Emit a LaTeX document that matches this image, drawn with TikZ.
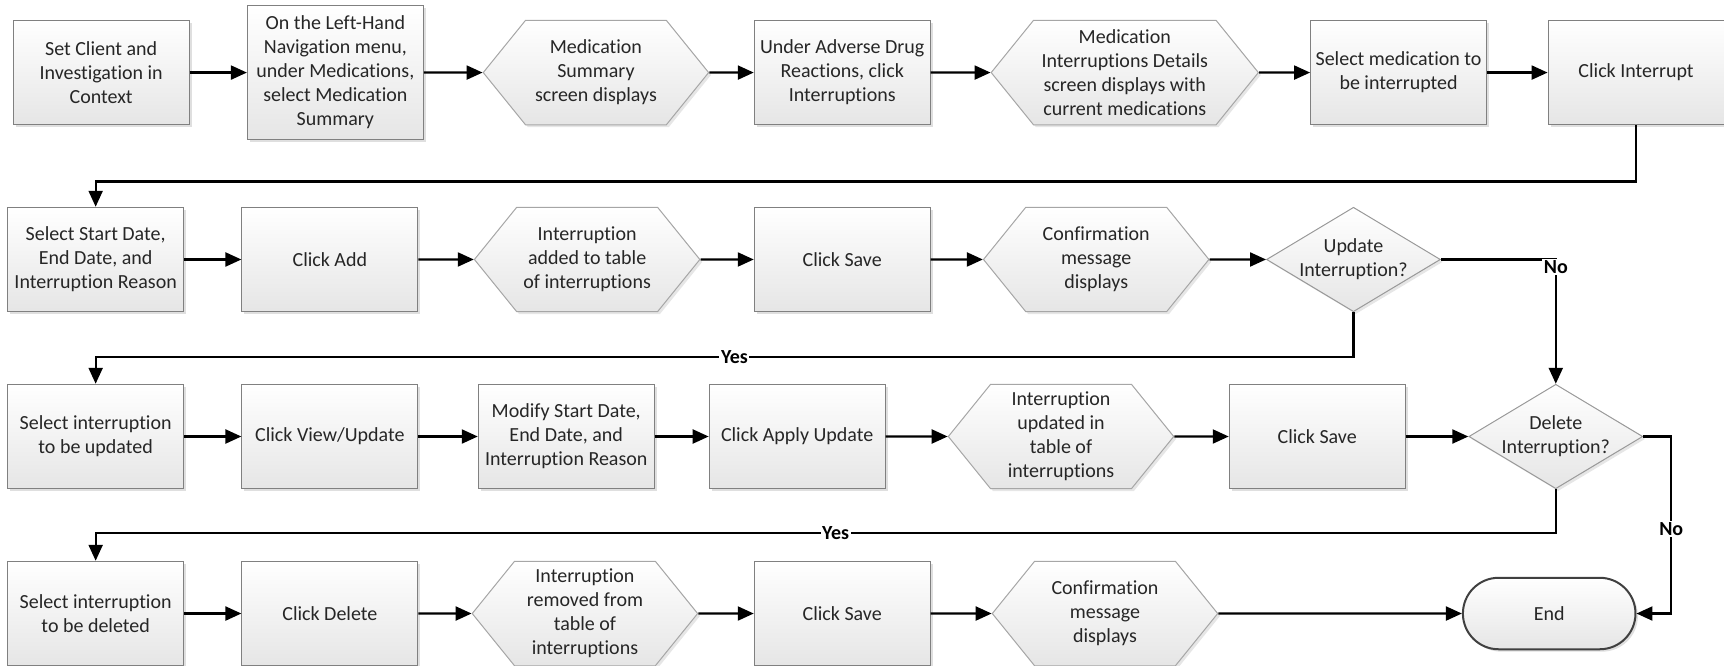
\documentclass[tikz,border=0pt]{standalone}
\usepackage{fontspec}
\setmainfont{Carlito}[Ligatures=NoCommon]
\usetikzlibrary{arrows.meta,shapes.geometric,shapes.symbols,shapes.misc,shadows}

\begin{document}
\begin{tikzpicture}[x=0.55pt,y=-0.55pt,
  font=\fontsize{10}{12}\selectfont,
  every node/.style={text=black!85, align=center},
  every label/.style={text=black!85, align=center},
  procbox/.style={rectangle, draw=black!50, line width=0.5pt, top color=white, bottom color=black!10,
    minimum width=88pt, minimum height=52.25pt, inner sep=1pt,
    drop shadow={shadow xshift=1.2pt, shadow yshift=-1.2pt, opacity=0.25}},
  hexbox/.style={signal, signal to=east and west, signal pointer angle=102, draw=black!35, line width=0.5pt,
    top color=white, bottom color=black!10, minimum width=112.75pt, minimum height=52.25pt, inner sep=1pt,
    drop shadow={shadow xshift=1.2pt, shadow yshift=-1.2pt, opacity=0.2}},
  decbox/.style={diamond, draw=black!40, line width=0.5pt, top color=white, bottom color=black!10,
    minimum width=87pt, minimum height=52.25pt, inner sep=0pt,
    drop shadow={shadow xshift=1.2pt, shadow yshift=-1.2pt, opacity=0.2}},
  endbox/.style={rounded rectangle, draw=black!75, line width=1pt, top color=white, bottom color=black!10,
    minimum width=93pt, minimum height=35.75pt,
    drop shadow={shadow xshift=1.2pt, shadow yshift=-1.2pt, opacity=0.25}},
  arr/.style={line width=1.1pt, black, -{Triangle[length=8pt,width=7pt]}},
  lbl/.style={fill=white, inner sep=0.8pt, font=\fontsize{10}{12}\selectfont\bfseries, text=black}]
\useasboundingbox (0,0) rectangle (1568,605);

%Row 1
\node[procbox] (setctx) at (92,66) {Set Client and\\Investigation in\\Context};
\node[procbox, minimum height=67pt] (leftnav) at (305,66) {On the Left-Hand\\Navigation menu,\\under Medications,\\select Medication\\Summary};
\node[hexbox] (medsum) at (542,66) {Medication\\Summary\\screen displays};
\node[procbox] (adverse) at (766,66) {Under Adverse Drug\\Reactions, click\\Interruptions};
\node[hexbox, minimum width=133.65pt] (details) at (1023,66) {Medication\\Interruptions Details\\screen displays with\\current medications};
\node[procbox] (selmed) at (1272,66) {Select medication to\\be interrupted};
\node[procbox] (interrupt) at (1488,66) {Click Interrupt};

%Row 2
\node[procbox] (dates) at (87,236) {Select Start Date,\\End Date, and\\Interruption Reason};
\node[procbox] (add) at (300,236) {Click Add};
\node[hexbox] (added) at (534,236) {Interruption\\added to table\\of interruptions};
\node[procbox] (save1) at (766,236) {Click Save};
\node[hexbox] (confirm1) at (997,236) {Confirmation\\message\\displays};
\node[decbox, label={center:Update\\Interruption?}] (updq) at (1231,236) {};

%Row 3
\node[procbox] (selupd) at (87,397) {Select interruption\\to be updated};
\node[procbox] (view) at (300,397) {Click View/Update};
\node[procbox] (modify) at (515,397) {Modify Start Date,\\End Date, and\\Interruption Reason};
\node[procbox] (apply) at (725,397) {Click Apply Update};
\node[hexbox] (updated) at (965,397) {Interruption\\updated in\\table of\\interruptions};
\node[procbox] (save2) at (1198,397) {Click Save};
\node[decbox, label={center:Delete\\Interruption?}] (delq) at (1415,397) {};

%Row 4
\node[procbox] (seldel) at (87,558) {Select interruption\\to be deleted};
\node[procbox] (delete) at (300,558) {Click Delete};
\node[hexbox] (removed) at (532,558) {Interruption\\removed from\\table of\\interruptions};
\node[procbox] (save3) at (766,558) {Click Save};
\node[hexbox] (confirm2) at (1005,558) {Confirmation\\message\\displays};
\node[endbox] (finish) at (1409,558) {End};

% Bends
\coordinate (bend1) at (1488,165);
\coordinate (bend2) at (1231,325);
\coordinate (bend3) at (1415,485);
\coordinate (bend4) at (1520,397);

%Straight Lines
\draw[arr] (setctx) -- (leftnav);
\draw[arr] (leftnav) -- (medsum);
\draw[arr] (medsum) -- (adverse);
\draw[arr] (adverse) -- (details);
\draw[arr] (details) -- (selmed);
\draw[arr] (selmed) -- (interrupt);
\draw[arr] (interrupt) -- (bend1) -| (dates);

\draw[arr] (dates) -- (add);
\draw[arr] (add) -- (added);
\draw[arr] (added) -- (save1);
\draw[arr] (save1) -- (confirm1);
\draw[arr] (confirm1) -- (updq);
\draw[arr] (updq.east) -| (delq.north);
\draw[arr] (updq.south) -- (bend2) -| (selupd);

\draw[arr] (selupd) -- (view);
\draw[arr] (view) -- (modify);
\draw[arr] (modify) -- (apply);
\draw[arr] (apply) -- (updated);
\draw[arr] (updated) -- (save2);
\draw[arr] (save2) -- (delq);
\draw[arr] (delq.east) -- (bend4) |- (finish.east);
\draw[arr] (delq.south) -- (bend3) -| (seldel);

\draw[arr] (seldel) -- (delete);
\draw[arr] (delete) -- (removed);
\draw[arr] (removed) -- (save3);
\draw[arr] (save3) -- (confirm2);
\draw[arr] (confirm2) -- (finish);

% Text Node
\node[lbl] (no1) at (1415,243) {No};
\node[lbl] (yes1) at (668,325) {Yes};
\node[lbl] (no2) at (1520,481) {No};
\node[lbl] (yes2) at (760,485) {Yes};

\end{tikzpicture}
\end{document}
